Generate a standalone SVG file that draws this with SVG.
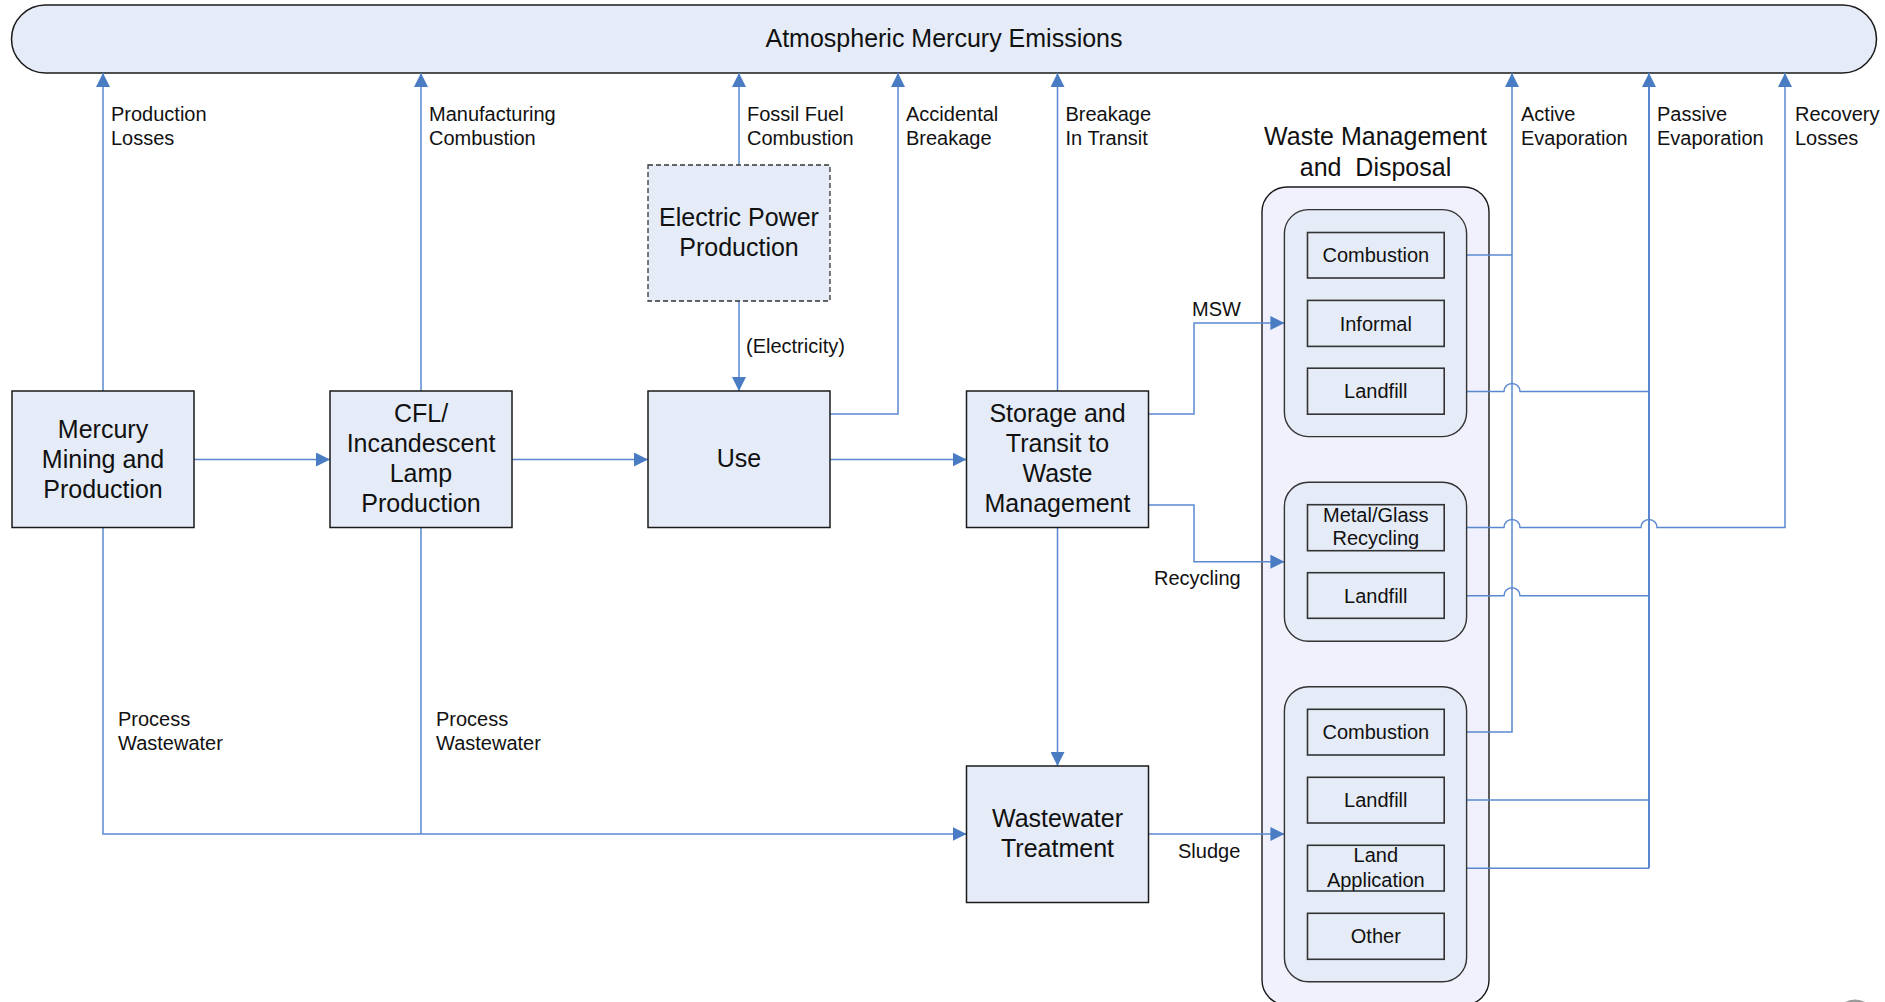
<svg xmlns="http://www.w3.org/2000/svg" width="1885" height="1002" viewBox="0 0 1885 1002">
<defs>
<style>
text{font-family:"Liberation Sans",Arial,sans-serif;fill:#111}
.big{font-size:25px;text-anchor:middle}
.lbl{font-size:20px}
.sm{font-size:20px;text-anchor:middle}
.box{fill:#E5ECF7;stroke:#1a1a1a;stroke-width:1.5}
.dash{fill:#E5ECF7;stroke:#333;stroke-width:1.3;stroke-dasharray:5 3}
.grp{fill:#E5ECF7;stroke:#333;stroke-width:1.4}
.sbox{fill:#E5ECF7;stroke:#333;stroke-width:1.6}
.ln{fill:none;stroke:#5A88D0;stroke-width:1.5}
.arr{marker-end:url(#ah)}
</style>
<marker id="ah" markerUnits="userSpaceOnUse" markerWidth="14" markerHeight="14" refX="14" refY="7" orient="auto">
<path d="M0,0 L14,7 L0,14 z" fill="#4A7CC4"/>
</marker>
</defs>
<rect width="1885" height="1002" fill="#fff"/>

<g id="atmosphere">
<rect x="11.5" y="5" width="1865" height="68" rx="34" ry="34" fill="#E5ECF7" stroke="#1a1a1a" stroke-width="1.5"/>
<text class="big" x="944" y="47">Atmospheric Mercury Emissions</text>
</g>

<g id="waste-container">
<rect x="1262" y="187" width="227" height="818" rx="25" ry="25" fill="#F0F1FC" stroke="#1a1a1a" stroke-width="1.4"/>
<text class="big" x="1375.5" y="145">Waste Management</text>
<text class="big" x="1375.5" y="176" xml:space="preserve">and  Disposal</text>
</g>

<g id="connectors">
<path class="ln arr" d="M103,391 V73"/>
<path class="ln arr" d="M421,391 V73"/>
<path class="ln arr" d="M739,165 V73"/>
<path class="ln arr" d="M830,414 H898 V73"/>
<path class="ln arr" d="M1057.5,391 V73"/>
<path class="ln arr" d="M194,459.5 H330"/>
<path class="ln arr" d="M512,459.5 H648"/>
<path class="ln arr" d="M830,459.5 H966.5"/>
<path class="ln arr" d="M739,301 V391"/>
<path class="ln arr" d="M1148.7,414 H1194 V323 H1284.4"/>
<path class="ln arr" d="M1148.7,505 H1194 V561.7 H1284.4"/>
<path class="ln arr" d="M1057.5,527.5 V766"/>
<path class="ln" d="M103,527.5 V834 H421 M421,527.5 V834"/>
<path class="ln arr" d="M421,834 H966.5"/>
<path class="ln arr" d="M1148.7,834 H1284.4"/>
<path class="ln arr" d="M1444,732 H1512 V73"/>
<path class="ln" d="M1444,255 H1512"/>
<path class="ln" d="M1444,391.5 H1504 A8,8 0 0 1 1520,391.5 H1649"/>
<path class="ln" d="M1444,595.7 H1504 A8,8 0 0 1 1520,595.7 H1649"/>
<path class="ln" d="M1444,800 H1649"/>
<path class="ln" d="M1444,868.3 H1649"/>
<path class="ln arr" d="M1649,868.3 V73" style="stroke-width:2"/>
<path class="ln arr" d="M1444,527.5 H1504 A8,8 0 0 1 1520,527.5 H1641 A8,8 0 0 1 1657,527.5 H1785 V73"/>
<text class="lbl" x="111" y="121">Production</text>
<text class="lbl" x="111" y="145">Losses</text>
<text class="lbl" x="429" y="121">Manufacturing</text>
<text class="lbl" x="429" y="145">Combustion</text>
<text class="lbl" x="747" y="121">Fossil Fuel</text>
<text class="lbl" x="747" y="145">Combustion</text>
<text class="lbl" x="906" y="121">Accidental</text>
<text class="lbl" x="906" y="145">Breakage</text>
<text class="lbl" x="1065.5" y="121">Breakage</text>
<text class="lbl" x="1065.5" y="145">In Transit</text>
<text class="lbl" x="1521" y="121">Active</text>
<text class="lbl" x="1521" y="145">Evaporation</text>
<text class="lbl" x="1657" y="121">Passive</text>
<text class="lbl" x="1657" y="145">Evaporation</text>
<text class="lbl" x="1795" y="121">Recovery</text>
<text class="lbl" x="1795" y="145">Losses</text>
<text class="lbl" x="746" y="353">(Electricity)</text>
<text class="lbl" x="1192" y="316">MSW</text>
<text class="lbl" x="1154" y="585">Recycling</text>
<text class="lbl" x="1178" y="858">Sludge</text>
<text class="lbl" x="118" y="726">Process</text>
<text class="lbl" x="118" y="749.5">Wastewater</text>
<text class="lbl" x="436" y="726">Process</text>
<text class="lbl" x="436" y="749.5">Wastewater</text>
</g>

<g id="mercury-mining">
<rect class="box" x="12" y="391" width="182" height="136.5"/>
<text class="big" x="103" y="437.5">Mercury</text>
<text class="big" x="103" y="467.5">Mining and</text>
<text class="big" x="103" y="497.5">Production</text>
</g>

<g id="lamp-production">
<rect class="box" x="330" y="391" width="182" height="136.5"/>
<text class="big" x="421" y="421.7">CFL/</text>
<text class="big" x="421" y="451.7">Incandescent</text>
<text class="big" x="421" y="481.7">Lamp</text>
<text class="big" x="421" y="511.7">Production</text>
</g>

<g id="electric-power">
<rect class="dash" x="648" y="165" width="182" height="136"/>
<text class="big" x="739" y="226">Electric Power</text>
<text class="big" x="739" y="255.5">Production</text>
</g>

<g id="use">
<rect class="box" x="648" y="391" width="182" height="136.5"/>
<text class="big" x="739" y="467">Use</text>
</g>

<g id="storage-transit">
<rect class="box" x="966.5" y="391" width="182" height="136.5"/>
<text class="big" x="1057.5" y="421.7">Storage and</text>
<text class="big" x="1057.5" y="451.7">Transit to</text>
<text class="big" x="1057.5" y="481.7">Waste</text>
<text class="big" x="1057.5" y="511.7">Management</text>
</g>

<g id="wastewater-treatment">
<rect class="box" x="966.5" y="766" width="182" height="136.5"/>
<text class="big" x="1057.5" y="827">Wastewater</text>
<text class="big" x="1057.5" y="856.5">Treatment</text>
</g>

<g id="msw-group">
<rect class="grp" x="1284.4" y="209.6" width="182.2" height="227" rx="24" ry="24"/>
<g id="msw-combustion">
<rect class="sbox" x="1307.5" y="232.5" width="136.7" height="45.5"/>
<text class="sm" x="1375.8" y="262">Combustion</text>
</g>
<g id="msw-informal">
<rect class="sbox" x="1307.5" y="300.4" width="136.7" height="46"/>
<text class="sm" x="1375.8" y="330.5">Informal</text>
</g>
<g id="msw-landfill">
<rect class="sbox" x="1307.5" y="368.2" width="136.7" height="46"/>
<text class="sm" x="1375.8" y="398.3">Landfill</text>
</g>
</g>

<g id="recycling-group">
<rect class="grp" x="1284.4" y="482.2" width="182.2" height="159.1" rx="24" ry="24"/>
<g id="rec-metal-glass">
<rect class="sbox" x="1307.5" y="504.7" width="136.7" height="46"/>
<text class="sm" x="1375.8" y="521.7">Metal/Glass</text>
<text class="sm" x="1375.8" y="545">Recycling</text>
</g>
<g id="rec-landfill">
<rect class="sbox" x="1307.5" y="572.7" width="136.7" height="45.6"/>
<text class="sm" x="1375.8" y="602.5">Landfill</text>
</g>
</g>

<g id="sludge-group">
<rect class="grp" x="1284.4" y="686.7" width="182.2" height="295" rx="24" ry="24"/>
<g id="sl-combustion">
<rect class="sbox" x="1307.5" y="709.3" width="136.7" height="45.7"/>
<text class="sm" x="1375.8" y="739">Combustion</text>
</g>
<g id="sl-landfill">
<rect class="sbox" x="1307.5" y="777.3" width="136.7" height="45.7"/>
<text class="sm" x="1375.8" y="807">Landfill</text>
</g>
<g id="sl-land-application">
<rect class="sbox" x="1307.5" y="845.3" width="136.7" height="45.7"/>
<text class="sm" x="1375.8" y="861.7">Land</text>
<text class="sm" x="1375.8" y="886.7">Application</text>
</g>
<g id="sl-other">
<rect class="sbox" x="1307.5" y="913.3" width="136.7" height="46"/>
<text class="sm" x="1375.8" y="943.3">Other</text>
</g>
</g>

<circle cx="1855" cy="1021" r="20" fill="none" stroke="#9a9a9a" stroke-width="3"/>
</svg>
